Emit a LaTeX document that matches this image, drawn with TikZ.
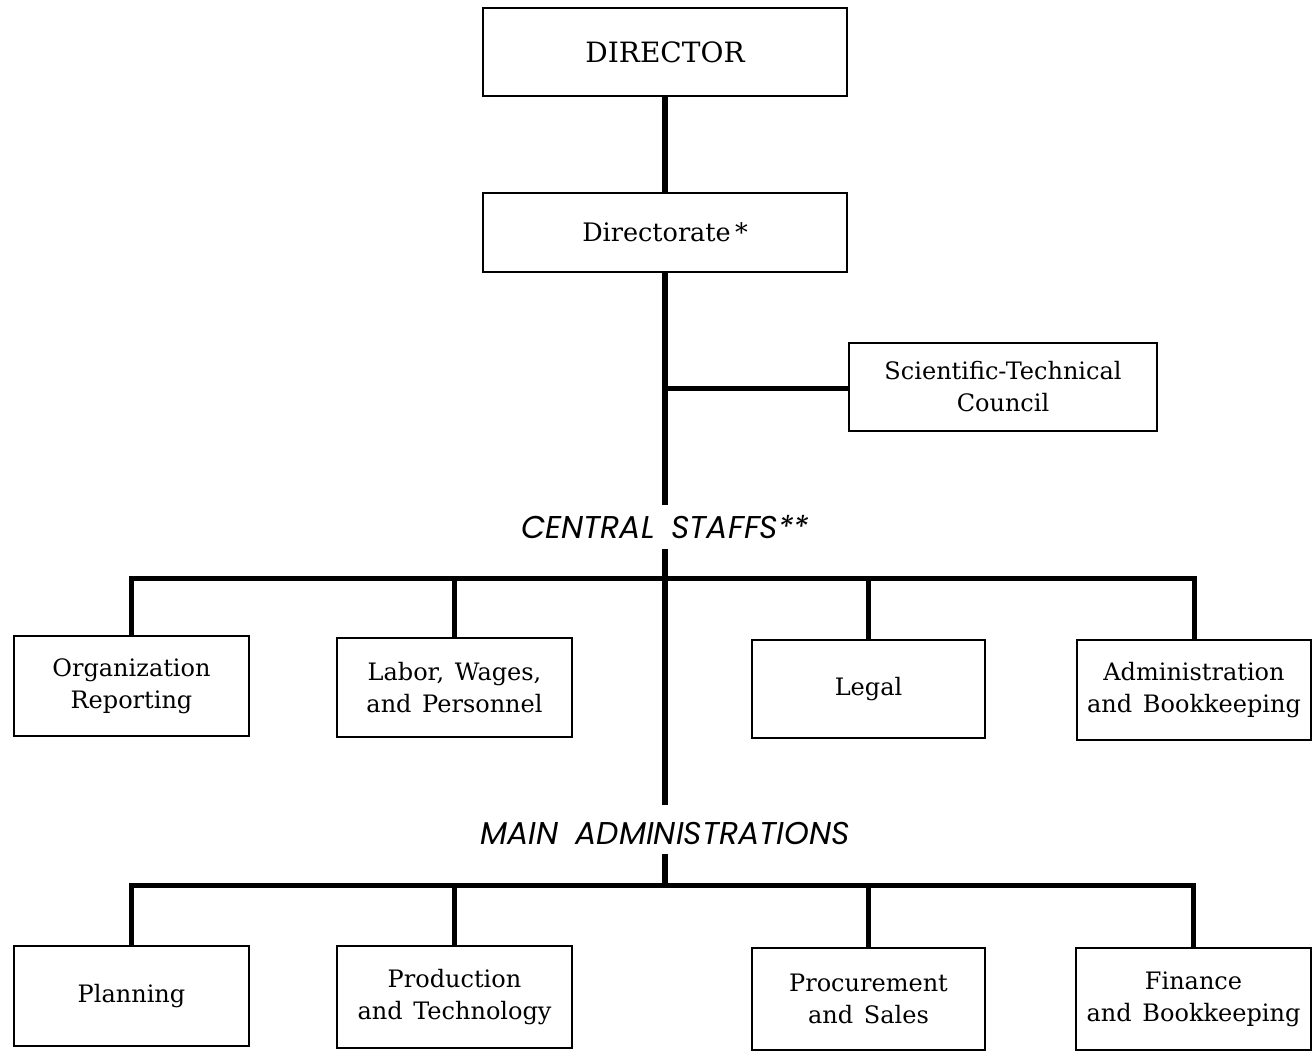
\documentclass[tikz,border=0pt]{standalone}
\usepackage{fontspec}
\setmainfont{DejaVu Serif}[WordSpace={1.4}]
\newfontfamily\headfont{Poppins}[WordSpace={1.8}]
\begin{document}
\begin{tikzpicture}[x=1pt,y=-1pt,
  unit/.style={draw, line width=2pt, align=center, inner sep=0pt,
    font=\fontsize{24}{32}\selectfont},
  head/.style={inner sep=10pt, font=\headfont\itshape\fontsize{31.5}{36}\selectfont},
  trunk/.style={line width=6pt},
  branch/.style={line width=5pt}]
\useasboundingbox (0,0) rectangle (1314,1057);
\fill[white] (0,0) rectangle (1314,1057);
\node[unit, minimum width=364pt, minimum height=88pt] (dir) at (665,52) {\fontsize{28}{32}\selectfont DIRECTOR};
\node[unit, minimum width=364pt, minimum height=79pt] (dte) at (665,232.5) {\fontsize{25.5}{32}\selectfont Directorate\,*};
\node[unit, minimum width=308pt, minimum height=88pt] (stc) at (1003,387) {Scientific-Technical\\Council};
\node[head] (cs) at (665,527) {CENTRAL STAFFS**};
\node[head] (ma) at (665,833) {MAIN ADMINISTRATIONS};
\node[unit, minimum width=235pt, minimum height=100pt] (org) at (131.5,686) {Organization\\Reporting};
\node[unit, minimum width=235pt, minimum height=99pt] (lab) at (454.5,687.5) {Labor, Wages,\\and Personnel};
\node[unit, minimum width=233pt, minimum height=98pt] (leg) at (868.5,689) {Legal};
\node[unit, minimum width=234pt, minimum height=100pt] (adm) at (1194,690) {Administration\\and Bookkeeping};
\node[unit, minimum width=235pt, minimum height=100pt] (pla) at (131.5,996) {Planning};
\node[unit, minimum width=235pt, minimum height=102pt] (pro) at (454.5,997) {Production\\and Technology};
\node[unit, minimum width=233pt, minimum height=102pt] (pcs) at (868.5,999) {Procurement\\and Sales};
\node[unit, minimum width=235pt, minimum height=102pt] (fin) at (1193.5,999) {Finance\\and Bookkeeping};
\coordinate (j1) at (665,388);
\coordinate (j2) at (665,578);
\coordinate (j3) at (665,885);
\draw[trunk] (dir.south) -- (dte.north);
\draw[trunk] (dte.south) -- (cs.north);
\draw[branch] (j1) -- (stc.west |- j1);
\draw[trunk] (cs.south) -- (665,805);
\draw[trunk] (ma.south) -- (j3);
\draw[branch] (org.north) -- (org.north |- j2) -- (adm.north |- j2) -- (adm.north);
\draw[branch] (lab.north) -- (lab.north |- j2);
\draw[branch] (leg.north) -- (leg.north |- j2);
\draw[branch] (pla.north) -- (pla.north |- j3) -- (fin.north |- j3) -- (fin.north);
\draw[branch] (pro.north) -- (pro.north |- j3);
\draw[branch] (pcs.north) -- (pcs.north |- j3);
\end{tikzpicture}
\end{document}
